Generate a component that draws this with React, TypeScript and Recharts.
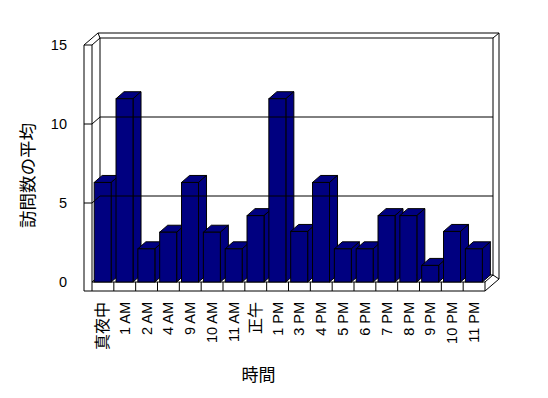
import { BarChart, Bar, XAxis, YAxis, ReferenceArea, ReferenceLine, Label } from 'recharts';

const hours = ['真夜中', '1 AM', '2 AM', '4 AM', '9 AM', '10 AM', '11 AM', '正午', '1 PM', '3 PM', '4 PM', '5 PM', '6 PM', '7 PM', '8 PM', '9 PM', '10 PM', '11 PM'];
const avgVisits = [6.3, 11.6, 2.1, 3.15, 6.3, 3.15, 2.1, 4.2, 11.6, 3.2, 6.3, 2.1, 2.1, 4.2, 4.2, 1.05, 3.2, 2.1];
const valueTicks = [0, 5, 10, 15];
const gridValues = [5, 10];

const data = hours.map((h, i) => ({ hour: h, visits: avgVisits[i] }));

// depth of the fake 3d box
const DX = 8;
const DY = 7;
const OUT_X = 14;
const OUT_Y = 12;
const WALL = 8;
const FLOOR = 9;

const LATIN = "'Liberation Sans', Arial, sans-serif";
const CJK = "'Noto Sans CJK JP', 'Liberation Sans', sans-serif";
const isCjk = (s: string) => /[^\x00-\x7f]/.test(s);

function Walls(props: any) {
  const { x, y, width, height } = props;
  const L = x - WALL;
  const R = x + width;
  const T = y;
  const B = y + height;
  const FB = B + FLOOR;
  const ln = (x1: number, y1: number, x2: number, y2: number, k: string) => (
    <line key={k} x1={x1} y1={y1} x2={x2} y2={y2} stroke="#000" strokeWidth={1} />
  );
  return (
    <g>
      <polygon
        points={`${L},${T} ${L + OUT_X},${T - OUT_Y} ${R + OUT_X},${T - OUT_Y} ${R + OUT_X},${FB - OUT_Y} ${R},${FB} ${L},${FB}`}
        fill="#fff"
        stroke="#000"
      />
      {ln(L, T, x, T, 'a')}
      {ln(x, T, x, FB, 'b')}
      {ln(x, T, x + DX, T - DY, 'c')}
      <rect x={x + DX} y={T - DY} width={width} height={height} fill="#fff" stroke="#000" />
      {ln(x, B, x + DX, B - DY, 'd')}
      {ln(x, B, R, B, 'e')}
      {ln(R, B, R, FB, 'f')}
      {ln(R, B, R + DX, B - DY, 'g')}
      {ln(R + DX, T - DY, R + OUT_X, T - OUT_Y, 'h')}
      {ln(R + DX, B - DY, R + OUT_X, FB - OUT_Y, 'i')}
      {ln(x + DX, T - DY, L + OUT_X, T - OUT_Y, 'j')}
    </g>
  );
}

function GridLine(props: any) {
  const { x1, x2, y1 } = props;
  return (
    <g>
      <line x1={x1 - WALL} y1={y1} x2={x1} y2={y1} stroke="#000" />
      <line x1={x1} y1={y1} x2={x1 + DX} y2={y1 - DY} stroke="#000" />
      <line x1={x1 + DX} y1={y1 - DY} x2={x2 + DX} y2={y1 - DY} stroke="#000" />
    </g>
  );
}

function Bar3d(props: any) {
  const { x, y, width, height } = props;
  if (!height) return null;
  const fill = '#000080';
  return (
    <g stroke="#000" strokeWidth={1} strokeLinejoin="miter">
      <polygon points={`${x},${y} ${x + DX},${y - DY} ${x + width + DX},${y - DY} ${x + width},${y}`} fill={fill} />
      <polygon
        points={`${x + width},${y} ${x + width + DX},${y - DY} ${x + width + DX},${y + height - DY} ${x + width},${y + height}`}
        fill={fill}
      />
      <rect x={x} y={y} width={width} height={height} fill={fill} />
    </g>
  );
}

function HourTick(props: any) {
  const { x, y, payload, index } = props;
  const label = String(payload.value);
  const off = payload.offset || 0;
  const base = y - 20;
  const cjk = isCjk(label);
  return (
    <g>
      {index < hours.length - 1 && <line x1={x + off} y1={base} x2={x + off} y2={base + FLOOR} stroke="#000" />}
      <text
        x={x + 5}
        y={y}
        transform={`rotate(-90, ${x + 5}, ${y})`}
        textAnchor="end"
        fontFamily={cjk ? CJK : LATIN}
        fontSize={cjk ? 16 : 14.5}
        fill="#000"
      >
        {label}
      </text>
    </g>
  );
}

function ValueTick(props: any) {
  const { x, y, payload } = props;
  return (
    <text x={x} y={y + 5} textAnchor="end" fontFamily={LATIN} fontSize={14.5} fill="#000">
      {payload.value}
    </text>
  );
}

export default function App() {
  return (
    <div style={{ position: 'absolute', left: 0, top: 0, background: '#fff' }}>
      <BarChart
        width={548}
        height={398}
        data={data}
        margin={{ top: 45, right: 63, bottom: 36, left: 32 }}
        barCategoryGap="10%"
        style={{ fontFamily: LATIN }}
      >
        <XAxis
          dataKey="hour"
          height={80}
          interval={0}
          axisLine={false}
          tickLine={false}
          tickSize={0}
          tickMargin={20}
          tick={<HourTick />}
        >
          <Label
            content={(p: any) => {
              const vb = p.viewBox;
              return (
                <text x={vb.x + vb.width / 2 - 30} y={vb.y + 99} textAnchor="middle" fontFamily={CJK} fontSize={17} fill="#000">
                  時間
                </text>
              );
            }}
          />
        </XAxis>
        <YAxis
          width={60}
          domain={[0, 15]}
          ticks={valueTicks}
          axisLine={false}
          tickLine={false}
          tickSize={0}
          tickMargin={25}
          tick={<ValueTick />}
        >
          <Label
            content={(p: any) => {
              const vb = p.viewBox;
              const cx = vb.x + 2;
              const cy = vb.y + vb.height / 2 + 12;
              return (
                <text
                  x={cx}
                  y={cy}
                  transform={`rotate(-90, ${cx}, ${cy})`}
                  textAnchor="middle"
                  fontFamily={CJK}
                  fontSize={17.5}
                  fill="#000"
                >
                  訪問数の平均
                </text>
              );
            }}
          />
        </YAxis>
        <ReferenceArea y1={0} y2={15} shape={<Walls />} ifOverflow="visible" />
        {gridValues.map((v) => (
          <ReferenceLine key={v} y={v} shape={<GridLine />} />
        ))}
        <Bar dataKey="visits" shape={<Bar3d />} isAnimationActive={false} />
      </BarChart>
    </div>
  );
}
